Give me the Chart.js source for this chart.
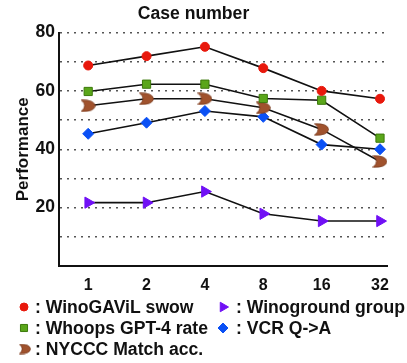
<!DOCTYPE html>
<html>
<head>
<meta charset="utf-8">
<script src="https://cdn.jsdelivr.net/npm/chart.js@4.4.0/dist/chart.umd.min.js"></script>
<style>
  html, body { margin: 0; padding: 0; background: #fff; }
</style>
</head>
<body>
<canvas id="chart" width="407" height="363"></canvas>
<script>
// values
const caseLabels = ['1', '2', '4', '8', '16', '32'];
const winogavil  = [68.7, 71.9, 75.1, 67.8, 60.0, 57.3];
const whoops     = [59.8, 62.3, 62.3, 57.4, 56.8, 43.8];
const nyccc      = [54.9, 57.3, 57.3, 54.2, 46.8, 35.8];
const vcr        = [45.3, 49.1, 53.1, 51.1, 41.6, 40.0];
const winoground = [21.7, 21.7, 25.5, 17.9, 15.4, 15.4];
const seriesNames = ['WinoGAViL swow', 'Whoops GPT-4 rate', 'NYCCC Match acc.', 'VCR Q->A', 'Winoground group'];

const FONT = 'Liberation Sans, Arial, sans-serif';

// the brown "moon" marker
function makeMoon(w, h) {
  const c = document.createElement('canvas');
  c.width = w; c.height = h;
  const g = c.getContext('2d');
  g.fillStyle = '#a0522d';
  g.strokeStyle = '#7a3b1e';
  g.lineWidth = 0.8;
  g.beginPath();
  g.moveTo(0.5, 0.8);
  g.quadraticCurveTo(w * 0.9, 0.3, w - 0.5, h / 2);
  g.quadraticCurveTo(w * 0.9, h - 0.3, 0.5, h - 0.8);
  g.quadraticCurveTo(w * 0.5, h / 2, 0.5, 0.8);
  g.closePath();
  g.fill();
  g.stroke();
  return c;
}
const moonBig = makeMoon(15, 13);
const moonSmall = makeMoon(12, 11);

const toPts = arr => arr.map((v, i) => ({ x: i, y: v }));

const styles = [
  { pointStyle: 'circle', radius: 4.5, bg: '#e8180c', border: '#e8180c', rot: 0 },
  { pointStyle: 'rect', radius: 5.8, bg: '#5aa61a', border: '#3d7a0c', rot: 0 },
  { pointStyle: moonBig, radius: 6, bg: '#a0522d', border: '#a0522d', rot: 0 },
  { pointStyle: 'rectRot', radius: 5.5, bg: '#0a50f5', border: '#0a50f5', rot: 0 },
  { pointStyle: 'triangle', radius: 6.5, bg: '#7010f5', border: '#7010f5', rot: 90 }
];
const seriesData = [winogavil, whoops, nyccc, vcr, winoground];

const datasets = seriesData.map((arr, k) => ({
  label: seriesNames[k],
  data: toPts(arr),
  borderColor: '#111',
  borderWidth: 1.6,
  pointStyle: styles[k].pointStyle,
  pointRadius: styles[k].radius,
  pointRotation: styles[k].rot,
  pointBackgroundColor: styles[k].bg,
  pointBorderColor: styles[k].border,
  pointBorderWidth: 1,
  tension: 0
}));

// legend laid out by hand, two columns
const legendItems = [
  { k: 0, mx: 24, tx: 35, y: 307, legendStyle: 'circle', r: 4 },
  { k: 4, mx: 223, tx: 236, y: 307, legendStyle: 'triangle', r: 5.5 },
  { k: 1, mx: 24, tx: 35, y: 328, legendStyle: 'rect', r: 5 },
  { k: 3, mx: 223, tx: 236, y: 328, legendStyle: 'rectRot', r: 5 },
  { k: 2, mx: 25, tx: 35, y: 349, legendStyle: moonSmall, r: 6 }
];

const handLegend = {
  id: 'handLegend',
  afterDraw(chart) {
    const ctx = chart.ctx;
    ctx.save();
    legendItems.forEach(it => {
      const st = styles[it.k];
      ctx.fillStyle = st.bg;
      ctx.strokeStyle = st.border;
      ctx.lineWidth = 1;
      Chart.helpers.drawPoint(ctx, {
        pointStyle: it.legendStyle,
        radius: it.r,
        rotation: st.rot,
        borderWidth: 1
      }, it.mx, it.y);
      ctx.fillStyle = '#111';
      ctx.font = 'bold 17.6px ' + FONT;
      ctx.textBaseline = 'middle';
      ctx.textAlign = 'left';
      ctx.fillText(': ' + seriesNames[it.k], it.tx, it.y + 1);
    });
    ctx.restore();
  }
};

new Chart(document.getElementById('chart').getContext('2d'), {
  type: 'line',
  data: { datasets },
  options: {
    responsive: false,
    animation: false,
    layout: { padding: { top: 0, left: 0, right: 20, bottom: 63 } },
    scales: {
      x: {
        type: 'linear',
        min: -0.5,
        max: 5.12,
        afterBuildTicks: s => { s.ticks = caseLabels.map((_, i) => ({ value: i })); },
        afterFit: s => { s.height = 34; },
        grid: { display: false, drawTicks: false },
        border: { display: true, color: '#111', width: 2 },
        ticks: {
          callback: v => caseLabels[v],
          color: '#111',
          font: { family: FONT, size: 16, weight: 'bold' },
          padding: 10,
          maxRotation: 0
        }
      },
      y: {
        min: 0,
        max: 80,
        afterFit: s => { s.width = 59; },
        grid: { color: '#555', lineWidth: 1.4, drawTicks: false },
        border: { display: true, color: '#111', width: 2, dash: [2, 5] },
        ticks: {
          stepSize: 10,
          callback: v => (v > 0 && v % 20 === 0) ? v : '',
          color: '#111',
          font: { family: FONT, size: 17.5, weight: 'bold' },
          padding: 4
        },
        title: {
          display: true,
          text: 'Performance',
          color: '#111',
          font: { family: FONT, size: 17, weight: 'bold' },
          padding: { top: 13, bottom: 0 }
        }
      }
    },
    plugins: {
      legend: { display: false },
      tooltip: { enabled: false },
      title: {
        display: true,
        text: 'Case number',
        color: '#111',
        font: { family: FONT, size: 17.6, weight: 'bold' },
        padding: { top: 4, bottom: 7.4 }
      }
    }
  },
  plugins: [handLegend]
});
</script>
</body>
</html>
